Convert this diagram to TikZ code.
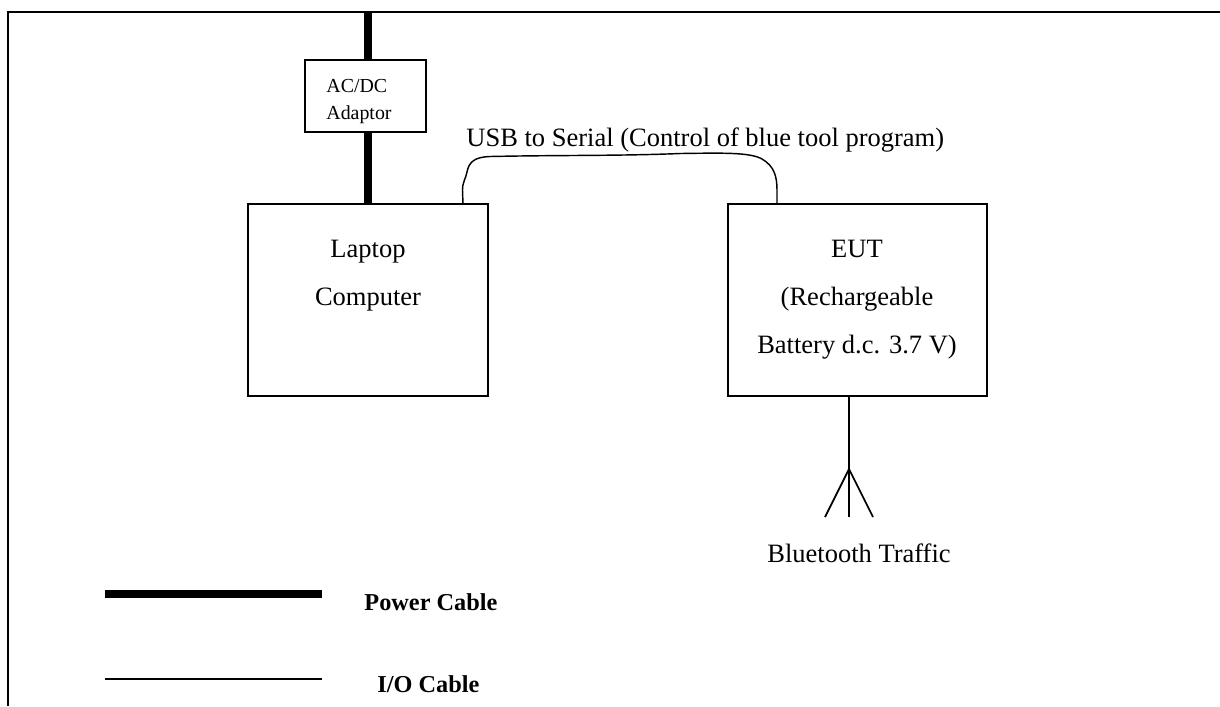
\documentclass[tikz,border=0pt]{standalone}
\usepackage{fontspec}
\setmainfont{Liberation Serif}
\def\pxu{0.4528pt}

\begin{document}
\begin{tikzpicture}[
    x=\pxu, y=-\pxu,
    device/.style={rectangle, draw=black, line width=0.9pt, inner sep=0pt},
    caption/.style={anchor=base, font=\fontsize{12}{14}\selectfont, inner sep=0pt},
    small/.style={anchor=base west, font=\fontsize{9}{11}\selectfont, inner sep=0pt},
    legend/.style={anchor=base west, font=\fontsize{11}{13}\selectfont\bfseries, inner sep=0pt},
    power/.style={line width=3.2pt, -},
    signal/.style={line width=0.8pt, -}
]
    \useasboundingbox (0,0) rectangle (1220,706);
    % frame
    \draw[line width=0.9pt] (8,706) -- (8,12) -- (1220,12);

    % devices
    \node[device, minimum width={121*\pxu}, minimum height={72*\pxu}] (adp) at (365.5,96) {};
    \node[device, minimum width={240*\pxu}, minimum height={192*\pxu}] (lap) at (368,300) {};
    \node[device, minimum width={259*\pxu}, minimum height={192*\pxu}] (eut) at (857.5,300) {};

    \node[small] (adp1) at (326,92.3) {AC/DC};
    \node[small] (adp2) at (326,119) {Adaptor};
    \node[caption] (lap1) at (368,257.7) {Laptop};
    \node[caption] (lap2) at (368,305) {Computer};
    \node[caption] (eut1) at (857,257.7) {EUT};
    \node[caption] (eut2) at (857,305) {(Rechargeable};
    \node[caption] (eut3) at (857,353) {Battery d.c. 3.7 V)};

    % power cable
    \coordinate (mains) at (368,12);
    \draw[power] (mains) -- (mains |- adp.north);
    \draw[power] (adp.south -| mains) -- (lap.north -| mains);

    % usb to serial cable
    \coordinate (usbA) at (463,204);
    \coordinate (usbB) at (777,204);
    \draw[signal, line width=0.65pt] (usbA) -- (462.5,190) .. controls (462.5,182) and (466,178) .. (467,172)
        .. controls (469,161) and (476,157) .. (490,156.5)
        .. controls (560,155) and (620,156) .. (680,153.5)
        .. controls (720,153) and (750,152) .. (762,159)
        .. controls (774,166) and (777,176) .. (777,190) -- (usbB);
    \node[caption, anchor=base west] (usb) at (466,146) {USB to Serial (Control of blue tool program)};

    % antenna
    \coordinate (antB) at (849,396);
    \coordinate (antT) at (849,469);
    \coordinate (antL) at (825,517);
    \coordinate (antM) at (849,517);
    \coordinate (antR) at (873,517);
    \draw[signal] (antB) -- (antM);
    \draw[signal] (antL) -- (antT) -- (antR);
    \node[caption] (bt) at (859,562) {Bluetooth Traffic};

    % legend
    \coordinate (pw1) at (105,594);
    \coordinate (pw2) at (322,594);
    \coordinate (io1) at (105,679);
    \coordinate (io2) at (322,679);
    \draw[power] (pw1) -- (pw2);
    \draw[signal, line width=0.9pt] (io1) -- (io2);
    \node[legend] (pwtxt) at (364,610) {Power Cable};
    \node[legend] (iotxt) at (377,692) {I/O Cable};
\end{tikzpicture}
\end{document}
